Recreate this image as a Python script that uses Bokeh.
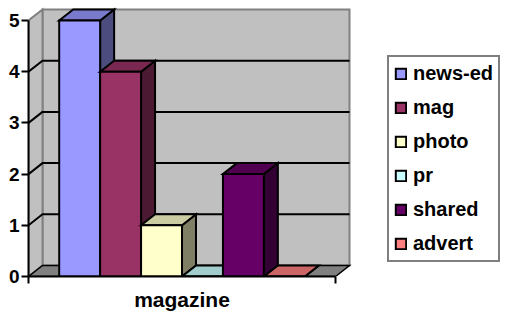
from bokeh.plotting import figure
from bokeh.models import LinearAxis, FixedTicker, Range1d, Legend, LegendItem
from bokeh.embed import file_html
from bokeh.resources import INLINE

# ---- data ----
categories = ["magazine"]
series = ["news-ed", "mag", "photo", "pr", "shared", "advert"]
values = [5, 4, 1, 0, 2, 0]
colors = ["#9999FF", "#993366", "#FFFFCC", "#CCFFFF", "#660066", "#FF8080"]
y_ticks = [0, 1, 2, 3, 4, 5]

FONT = "Liberation Sans"

# ---- geometry (pixel scale helpers) ----
W, H = 508, 315
LEFT, BOTTOM = 28, 39
PX_X = 307.0      # pixels per category unit
PX_Y = 51.2       # pixels per value unit
FRAME_W = W - LEFT
FRAME_H = H - BOTTOM
DX = 14 / PX_X    # depth offset
DY = 11 / PX_Y
YMAX = max(y_ticks)

def shade(hexc, f):
    r, g, b = int(hexc[1:3], 16), int(hexc[3:5], 16), int(hexc[5:7], 16)
    return "#%02X%02X%02X" % (int(r * f), int(g * f), int(b * f))

p = figure(width=W, height=H, output_backend="svg", toolbar_location=None,
           x_axis_type=None, y_axis_type=None,
           x_range=Range1d(0, FRAME_W / PX_X), y_range=Range1d(0, FRAME_H / PX_Y),
           min_border_left=LEFT, min_border_right=0, min_border_top=0, min_border_bottom=BOTTOM)
p.outline_line_color = None
p.background_fill_color = "white"
p.border_fill_color = "white"
p.xgrid.visible = False
p.ygrid.visible = False

# walls
p.patch([DX, 1 + DX, 1 + DX, DX], [DY, DY, YMAX + DY, YMAX + DY],
        fill_color="#C0C0C0", line_color="#808080", line_width=2, line_join="miter")
p.patch([0, DX, DX, 0], [0, DY, YMAX + DY, YMAX],
        fill_color="#C0C0C0", line_color="#808080", line_width=2, line_join="miter")
# floor
p.patch([0, 1, 1 + DX, DX], [0, 0, DY, DY],
        fill_color="#808080", line_color="black", line_width=1.5, line_join="miter")

# gridlines on walls
gx, gy = [], []
for v in y_ticks[1:-1]:
    gx.append([0, DX, 1 + DX])
    gy.append([v, v + DY, v + DY])
p.multi_line(gx, gy, line_color="black", line_width=2)

# bars
n = len(series)
gap = 1.5
w = 1.0 / (n + gap)
start = gap * w / 2
items = []
for i, (name, v, c) in enumerate(zip(series, values, colors)):
    x0 = start + i * w
    x1 = x0 + w
    # side
    p.patch([x1, x1 + DX, x1 + DX, x1], [0, DY, v + DY, v],
            fill_color=shade(c, 0.5), line_color="black", line_width=2, line_join="miter")
    # top
    p.patch([x0, x1, x1 + DX, x0 + DX], [v, v, v + DY, v + DY],
            fill_color=shade(c, 0.8), line_color="black", line_width=2, line_join="miter")
    # front
    r = p.quad(left=x0, right=x1, bottom=0, top=v,
               fill_color=c, line_color="black", line_width=2, line_join="miter")
    items.append(LegendItem(label=name, renderers=[r]))

# axes
yaxis = LinearAxis(bounds=(0, YMAX), ticker=FixedTicker(ticks=y_ticks, minor_ticks=[]))
yaxis.axis_line_width = 2
yaxis.major_tick_line_width = 2
yaxis.major_tick_out = 7
yaxis.major_tick_in = 0
yaxis.minor_tick_line_color = None
yaxis.major_label_standoff = 2
yaxis.major_label_text_font = FONT
yaxis.major_label_text_font_style = "bold"
yaxis.major_label_text_font_size = "19px"
yaxis.major_label_text_color = "black"
p.add_layout(yaxis, "left")

xaxis = LinearAxis(bounds=(0, 1), ticker=FixedTicker(ticks=[0.5], minor_ticks=[0, 1]))
xaxis.major_label_overrides = {0.5: categories[0]}
xaxis.axis_line_width = 2
xaxis.major_tick_out = 0
xaxis.major_tick_in = 0
xaxis.major_tick_line_color = None
xaxis.minor_tick_out = 7
xaxis.minor_tick_in = 0
xaxis.minor_tick_line_width = 2
xaxis.major_label_standoff = 4
xaxis.major_label_text_font = FONT
xaxis.major_label_text_font_style = "bold"
xaxis.major_label_text_font_size = "21px"
xaxis.major_label_text_color = "black"
p.add_layout(xaxis, "below")

legend = Legend(items=items, location=(359, 14))
legend.border_line_color = "black"
legend.border_line_width = 2
legend.background_fill_color = "white"
legend.background_fill_alpha = 1
legend.padding = 5
legend.spacing = 11
legend.margin = 0
legend.label_height = 23
legend.glyph_height = 13
legend.glyph_width = 13
legend.label_standoff = 6
legend.label_text_font = FONT
legend.label_text_font_style = "bold"
legend.label_text_font_size = "20px"
legend.label_text_color = "black"
p.add_layout(legend)

open("out.html", "w").write(file_html(p, INLINE))
